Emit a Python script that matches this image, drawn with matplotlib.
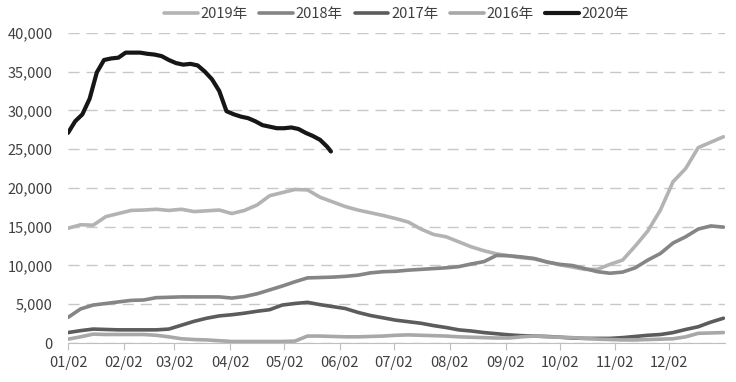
import matplotlib.pyplot as plt
from matplotlib.ticker import FuncFormatter

# day offset from 01/02, weekly samples
days = list(range(0, 365, 7))
days_2020 = list(range(0, 148, 4)) + [146]

month_ticks = [0, 31, 59, 90, 120, 151, 181, 212, 243, 273, 304, 334]
month_labels = ["01/02", "02/02", "03/02", "04/02", "05/02", "06/02",
                "07/02", "08/02", "09/02", "10/02", "11/02", "12/02"]

v2019 = [14800, 15250, 15200, 16300, 16700, 17100, 17150, 17250, 17100, 17250,
         16950, 17050, 17150, 16700, 17100, 17800, 19000, 19400, 19800, 19750,
         18800, 18200, 17600, 17150, 16800, 16450, 16050, 15600, 14700, 14000,
         13700, 13050, 12400, 11900, 11500, 11250, 11000, 10850, 10450, 10100,
         9800, 9500, 9500, 10150, 10700, 12500, 14450, 17150, 20800, 22500,
         25200, 25900, 26600]
v2018 = [3300, 4400, 4900, 5100, 5300, 5500, 5550, 5850, 5900, 5950,
         5950, 5950, 5950, 5800, 6000, 6350, 6850, 7350, 7900, 8400,
         8450, 8500, 8600, 8750, 9050, 9200, 9250, 9400, 9500, 9600,
         9700, 9850, 10200, 10500, 11300, 11250, 11100, 10900, 10450, 10150,
         10000, 9600, 9200, 9000, 9150, 9700, 10700, 11550, 12900, 13700,
         14700, 15100, 14950]
v2017 = [1350, 1600, 1800, 1750, 1700, 1700, 1700, 1700, 1800, 2300,
         2800, 3200, 3500, 3650, 3850, 4100, 4300, 4900, 5100, 5250,
         4950, 4700, 4450, 3950, 3550, 3250, 2950, 2750, 2550, 2250,
         2000, 1700, 1550, 1350, 1200, 1050, 950, 900, 850, 750,
         650, 600, 600, 600, 700, 850, 1000, 1100, 1350, 1750,
         2100, 2700, 3200]
v2016 = [500, 800, 1150, 1100, 1100, 1100, 1100, 1000, 800, 550,
         450, 400, 300, 200, 200, 200, 200, 200, 250, 900,
         900, 850, 800, 800, 850, 900, 1000, 1050, 1000, 950,
         900, 800, 750, 700, 650, 650, 800, 900, 800, 750,
         700, 600, 500, 450, 400, 400, 450, 500, 550, 800,
         1250, 1300, 1350]
v2020 = [27100, 28600, 29500, 31500, 34900, 36500, 36700, 36800, 37450, 37450,
         37450, 37300, 37200, 37000, 36500, 36100, 35900, 36000, 35800, 35000,
         34000, 32500, 29900, 29500, 29200, 29000, 28600, 28100, 27900, 27700,
         27700, 27800, 27600, 27100, 26700, 26200, 25300, 24700]

series = [
    ("2019年", days, v2019, "#b3b3b3", 2.6),
    ("2018年", days, v2018, "#858585", 2.6),
    ("2017年", days, v2017, "#5c5c5c", 2.6),
    ("2016年", days, v2016, "#a8a8a8", 2.6),
    ("2020年", days_2020, v2020, "#161616", 3.0),
]


def main():
    plt.rcParams["font.family"] = ["Noto Sans CJK SC", "DejaVu Sans"]
    fig = plt.figure(figsize=(7.36, 3.82), dpi=100)
    ax = fig.add_axes([0.0924, 0.102, 0.893, 0.812])

    for label, x, y, color, lw in series:
        ax.plot(x, y, color=color, lw=lw, label=label, solid_capstyle="round")

    ax.set_xlim(0, 365)
    ax.set_ylim(0, 40000)
    ax.set_yticks(range(0, 40001, 5000))
    ax.yaxis.set_major_formatter(FuncFormatter(lambda v, _: f"{int(v):,}"))
    ax.set_xticks(month_ticks)
    ax.set_xticklabels(month_labels)

    ax.grid(axis="y", color="#c8c8c8", lw=1, dashes=(8, 5))
    ax.set_axisbelow(True)
    for spine in ["top", "right", "left"]:
        ax.spines[spine].set_visible(False)
    ax.spines["bottom"].set_color("#bfbfbf")
    ax.tick_params(axis="y", length=0, labelsize=10.5, colors="#404040", pad=11)
    ax.tick_params(axis="x", length=5, color="#bfbfbf", labelsize=10.5,
                   labelcolor="#404040", pad=4)

    ax.legend(loc="center", bbox_to_anchor=(0.5, 1.06), ncol=5,
              frameon=False, fontsize=10.5, handlelength=2.3,
              columnspacing=0.8, handletextpad=0.2, labelcolor="#404040")

    fig.savefig("out.png", dpi=100)


if __name__ == "__main__":
    main()
